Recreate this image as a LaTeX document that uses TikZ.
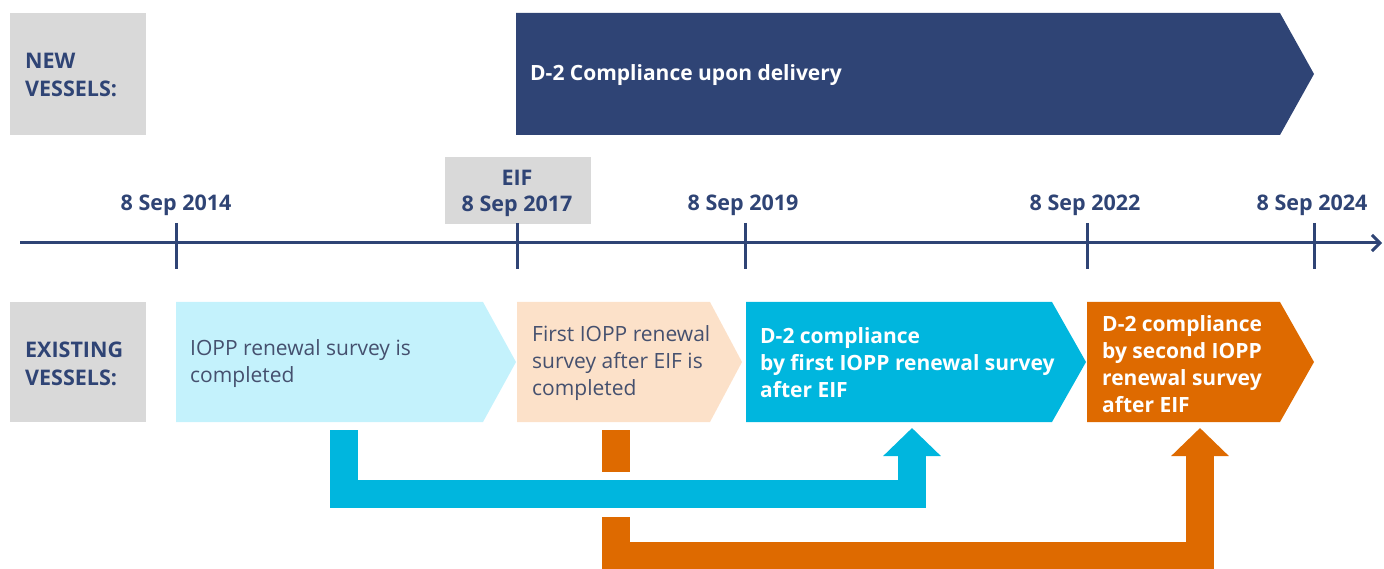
\documentclass[tikz,border=0pt]{standalone}
\usepackage{fontspec}
\setmainfont{Open Sans}
\usetikzlibrary{arrows.meta}
\definecolor{navy}{HTML}{2F4475}
\definecolor{greybox}{HTML}{D9D9D9}
\definecolor{lcyan}{HTML}{C4F2FC}
\definecolor{peach}{HTML}{FCE1C9}
\definecolor{cyanb}{HTML}{00B6DE}
\definecolor{orangeb}{HTML}{DE6A00}
\definecolor{bodytxt}{HTML}{45506E}
\newcommand\mychev[6]{\fill[#6] (#1,#4) -- (#2,#4) -- (#3,{(#4+#5)/2}) -- (#2,#5) -- (#1,#5) -- cycle;}
\begin{document}
\begin{tikzpicture}[x=1pt,y=-1pt,
  lbl/.style={font=\fontsize{21.5}{28}\selectfont\bfseries, text=navy, align=left, anchor=west, inner sep=0pt},
  datelbl/.style={font=\fontsize{21.5}{26}\selectfont\bfseries, text=navy, align=center, inner sep=0pt},
  body/.style={font=\fontsize{21}{27}\selectfont, text=bodytxt, align=left, anchor=west, inner sep=0pt},
  wbody/.style={font=\fontsize{21}{27}\selectfont\bfseries, text=white, align=left, anchor=west, inner sep=0pt},
  axis/.style={draw=navy, line width=3pt},
  band/.style={line width=28pt, line join=miter, line cap=butt},
  bigtip/.style={-{Triangle[width=56pt,length=28pt]}}
]
\useasboundingbox (0,0) rectangle (1384,569);
% grey label boxes
\fill[greybox] (10,13) rectangle (146,135);
\fill[greybox] (10,302) rectangle (146,422);
\fill[greybox] (445,157) rectangle (591,224);
\node[lbl] (newv) at (25,75) {NEW\\VESSELS:};
\node[lbl] (exv) at (25,364) {EXISTING\\VESSELS:};
% new vessels arrow
\mychev{516}{1280}{1314}{13}{135}{navy}
\node[wbody] (nva) at (530,75) {D-2 Compliance upon delivery};
% timeline
\coordinate (tl0) at (20,243);
\coordinate (tl1) at (1382,243);
\draw[axis, -{Straight Barb[length=8pt,width=16pt]}] (tl0) -- (tl1);
\foreach \x in {176,517,745,1087,1314} \draw[axis] (\x,223) -- (\x,269);
\node[datelbl] (d14) at (176,205) {8 Sep 2014};
\node[datelbl] (d17) at (517,193) {EIF\\8 Sep 2017};
\node[datelbl] (d19) at (743,205) {8 Sep 2019};
\node[datelbl] (d22) at (1085,205) {8 Sep 2022};
\node[datelbl] (d24) at (1312,205) {8 Sep 2024};
% existing vessels chevrons
\mychev{176}{483}{516}{302}{422}{lcyan}
\mychev{517}{710}{742}{302}{422}{peach}
\mychev{746}{1052}{1086}{302}{422}{cyanb}
\mychev{1087}{1280}{1314}{302}{422}{orangeb}
\node[body] (s1) at (190,364) {IOPP renewal survey is\\completed};
\node[body] (s2) at (532,363) {First IOPP renewal\\survey after EIF is\\completed};
\node[wbody] (s3) at (760,363) {D-2 compliance\\by first IOPP renewal survey\\after EIF};
\node[wbody] (s4) at (1102,364) {D-2 compliance\\by second IOPP\\renewal survey\\after EIF};
% connectors
\coordinate (c1a) at (344,430);
\coordinate (c1b) at (912,428);
\draw[band, cyanb, bigtip] (c1a) -- (344,494) -- (912,494) -- (c1b);
\coordinate (o1a) at (616,430);
\coordinate (o1b) at (616,472);
\draw[band, orangeb] (o1a) -- (o1b);
\coordinate (o2a) at (616,517);
\coordinate (o2b) at (1200,428);
\draw[band, orangeb, bigtip] (o2a) -- (616,556) -- (1200,556) -- (o2b);
\end{tikzpicture}
\end{document}
